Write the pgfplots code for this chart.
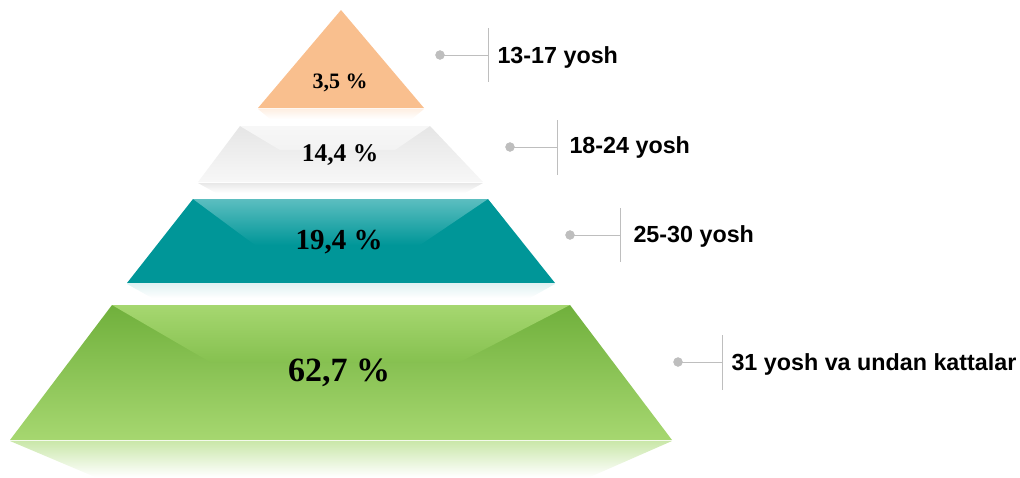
\documentclass[border=0pt]{standalone}
\usepackage{pgfplots}
\pgfplotsset{compat=1.18}
\usepackage{fontspec}
\setmainfont{Liberation Serif}
\newfontfamily\lsans{Liberation Sans}
\definecolor{peach}{RGB}{249,191,142}
\definecolor{peachlt}{RGB}{251,201,158}
\definecolor{tealdk}{RGB}{0,150,152}
\definecolor{teallt}{RGB}{92,190,192}
\definecolor{greendk}{RGB}{112,176,60}
\definecolor{greenmid}{RGB}{134,193,80}
\definecolor{greenlt}{RGB}{166,215,112}
\definecolor{callgray}{RGB}{190,190,190}
\begin{document}
\begin{tikzpicture}
\begin{axis}[width=1020pt,height=477pt,scale only axis,
  xmin=0,xmax=1020,ymin=0,ymax=477,y dir=reverse,
  axis lines=none, clip=false]
% frame for bounding box
\addplot[draw=none, fill=none, forget plot] coordinates {(0,0) (1020,0) (1020,477) (0,477)} -- cycle;
% reflections
\addplot[draw=none, top color=peach!25, bottom color=white] coordinates {(258,109) (424,109) (412,119) (270,119)} -- cycle;
\addplot[draw=none, top color=gray!18, bottom color=white] coordinates {(198,183) (483,183) (465,193) (216,193)} -- cycle;
\addplot[draw=none, top color=tealdk!12, bottom color=white] coordinates {(127,284) (555,284) (530,298) (152,298)} -- cycle;
\addplot[draw=none, top color=greenlt!60, bottom color=white] coordinates {(10,441) (672,441) (590,477) (95,477)} -- cycle;
% 13-17: orange triangle
\addplot[draw=none, fill=peach] coordinates {(341,10) (424,108) (258,108)} -- cycle;
% 18-24: gray trapezoid
\addplot[draw=none, top color=gray!20, bottom color=gray!6] coordinates {(240,126) (430,126) (483,182) (198,182)} -- cycle;
\addplot[draw=none, top color=gray!6, bottom color=gray!10] coordinates {(240,126) (430,126) (395,150) (280,150)} -- cycle;
% 25-30: teal trapezoid
\addplot[draw=none, fill=tealdk] coordinates {(193,199) (488,199) (555,283) (127,283)} -- cycle;
\addplot[draw=none, top color=teallt, bottom color=tealdk] coordinates {(193,199) (488,199) (420,245) (255,245)} -- cycle;
% 31+: green trapezoid
\addplot[draw=none, top color=greendk, bottom color=greenlt] coordinates {(112,305) (570,305) (672,440) (10,440)} -- cycle;
\addplot[draw=none, top color=greenlt, bottom color=greenmid] coordinates {(112,305) (570,305) (460,362) (210,362)} -- cycle;
% percentage labels
\node[font=\bfseries\fontsize{22}{24}\selectfont] at (axis cs:340,83) {3,5 \%};
\node[font=\bfseries\fontsize{25.5}{27}\selectfont] at (axis cs:340,155) {14,4 \%};
\node[font=\bfseries\fontsize{29}{31}\selectfont] at (axis cs:339,242) {19,4 \%};
\node[font=\bfseries\fontsize{34}{36}\selectfont] at (axis cs:339,373) {62,7 \%};
% callouts
\addplot[callgray, line width=0.9pt] coordinates {(440,55) (488,55)};
\addplot[callgray, line width=0.9pt] coordinates {(488,28) (488,82)};
\addplot[callgray, line width=0.9pt] coordinates {(510,147) (557,147)};
\addplot[callgray, line width=0.9pt] coordinates {(557,120) (557,175)};
\addplot[callgray, line width=0.9pt] coordinates {(570,235) (620,235)};
\addplot[callgray, line width=0.9pt] coordinates {(620,208) (620,262)};
\addplot[callgray, line width=0.9pt] coordinates {(678,362) (722,362)};
\addplot[callgray, line width=0.9pt] coordinates {(722,335) (722,390)};
\addplot[only marks, mark=*, mark size=4.5pt, color=callgray] coordinates {(440,55) (510,147) (570,235) (678,362)};
\node[anchor=west, font=\lsans\bfseries\fontsize{23.3}{25}\selectfont] at (axis cs:494,57) {13-17 yosh};
\node[anchor=west, font=\lsans\bfseries\fontsize{23.3}{25}\selectfont] at (axis cs:566,147) {18-24 yosh};
\node[anchor=west, font=\lsans\bfseries\fontsize{23.3}{25}\selectfont] at (axis cs:630,236) {25-30 yosh};
\node[anchor=west, font=\lsans\bfseries\fontsize{23.3}{25}\selectfont] at (axis cs:728,364) {31 yosh va undan kattalar};
\end{axis}
\end{tikzpicture}
\end{document}
